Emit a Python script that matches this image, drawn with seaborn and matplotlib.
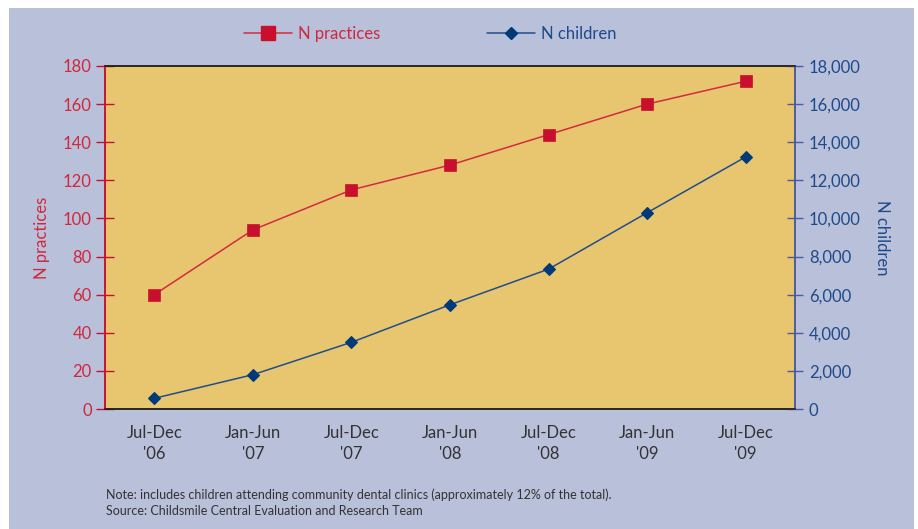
import matplotlib
matplotlib.use("Agg")
import matplotlib.pyplot as plt
import seaborn as sns
import pandas as pd
from matplotlib.patches import Rectangle
from matplotlib.lines import Line2D
from matplotlib.ticker import FuncFormatter

periods = ["Jul-Dec\n'06", "Jan-Jun\n'07", "Jul-Dec\n'07", "Jan-Jun\n'08",
           "Jul-Dec\n'08", "Jan-Jun\n'09", "Jul-Dec\n'09"]
n_practices = [60, 94, 115, 128, 144, 160, 172]
n_children = [560, 1800, 3500, 5470, 7340, 10300, 13230]
left_ticks = [0, 20, 40, 60, 80, 100, 120, 140, 160, 180]
right_ticks = [0, 2000, 4000, 6000, 8000, 10000, 12000, 14000, 16000, 18000]

RED = "#c8102e"
RED_LINE = "#d42a40"
RED_TXT = "#d0283c"
BLUE = "#003a78"
BLUE_LINE = "#1f4e8c"
BLUE_TXT = "#1f4a8a"
BLUE_SPINE = "#4a5aa0"
PLOT_BG = "#e8c670"
FIG_BG = "#b8c0da"
DARK = "#333333"

sns.set_style("white")
plt.rcParams['font.family'] = ['Lato', 'DejaVu Sans']

df = pd.DataFrame({"pos": range(len(periods)), "practices": n_practices,
                   "children": n_children})

fig = plt.figure(figsize=(9.18, 5.29), dpi=100, facecolor="white")
fig.patches.append(Rectangle((9 / 918, 0), (914 - 9) / 918, 1 - 8 / 529,
                             transform=fig.transFigure, facecolor=FIG_BG,
                             edgecolor="none", zorder=-10))
ax = fig.add_axes([105 / 918, 1 - 409 / 529, 690 / 918, 343 / 529])
ax.set_facecolor(PLOT_BG)
ax2 = ax.twinx()

sns.lineplot(data=df, x="pos", y="practices", ax=ax, color=RED_LINE, lw=1.1,
             marker="s", markersize=9, markerfacecolor=RED,
             markeredgecolor=RED, markeredgewidth=0.5)
sns.lineplot(data=df, x="pos", y="children", ax=ax2, color=BLUE_LINE, lw=1.1,
             marker="D", markersize=6.5, markerfacecolor=BLUE,
             markeredgecolor=BLUE, markeredgewidth=0.8)

ax.set_xlim(-0.5, len(periods) - 0.5)
ax.set_ylim(0, 180)
ax2.set_ylim(0, 18000)

ax.set_xticks([i - 0.5 for i in range(len(periods) + 1)])
ax.set_xticklabels([])
ax.set_xticks(range(len(periods)), minor=True)
ax.set_xticklabels(periods, minor=True, fontsize=12, color=DARK, linespacing=1.4)
ax.tick_params(axis="x", which="major", direction="inout", length=18, width=1.1, color=DARK)
ax.tick_params(axis="x", which="minor", length=0, pad=11.5)

ax.set_yticks(left_ticks)
ax.tick_params(axis="y", direction="inout", length=13, width=1.0, color=RED,
               labelcolor=RED_TXT, labelsize=12, pad=3)
ax2.set_yticks(right_ticks)
ax2.yaxis.set_major_formatter(FuncFormatter(lambda v, p: f"{int(v):,}"))
ax2.tick_params(axis="y", direction="inout", length=12, width=1.0, color=BLUE_SPINE,
                labelcolor=BLUE_TXT, labelsize=12, pad=4)

ax.set_xlabel("")
ax.set_ylabel("N practices", color=RED_TXT, fontsize=12, labelpad=9)
ax2.set_ylabel("N children", color=BLUE_TXT, fontsize=12, rotation=270, labelpad=21)

for a in (ax, ax2):
    a.spines["top"].set_color("#222222")
    a.spines["bottom"].set_color("#222222")
    a.spines["left"].set_color(RED)
    a.spines["right"].set_color(BLUE_SPINE)
    for s in a.spines.values():
        s.set_linewidth(1.1)
        s.set_visible(True)
ax2.grid(False)
ax.grid(False)

h1 = Line2D([], [], color=RED_LINE, lw=1.1, marker="s", markersize=10,
            markerfacecolor=RED, markeredgecolor=RED)
h2 = Line2D([], [], color=BLUE_LINE, lw=1.1, marker="D", markersize=6.5,
            markerfacecolor=BLUE, markeredgecolor=BLUE)
leg1 = fig.legend(handles=[h1], labels=["N practices"], loc="center left",
                  bbox_to_anchor=(244 / 918, 1 - 34 / 529), frameon=False,
                  borderpad=0, borderaxespad=0, handlelength=2.9, handletextpad=0.35,
                  fontsize=12)
for t in leg1.get_texts():
    t.set_color(RED_TXT)
leg2 = fig.legend(handles=[h2], labels=["N children"], loc="center left",
                  bbox_to_anchor=(487 / 918, 1 - 34 / 529), frameon=False,
                  borderpad=0, borderaxespad=0, handlelength=2.9, handletextpad=0.35,
                  fontsize=12)
for t in leg2.get_texts():
    t.set_color(BLUE_TXT)

fig.text(106 / 918, 1 - 495 / 529,
         "Note: includes children attending community dental clinics (approximately 12% of the total).",
         fontsize=9, color=DARK, va="center", ha="left")
fig.text(106 / 918, 1 - 511 / 529,
         "Source: Childsmile Central Evaluation and Research Team",
         fontsize=9, color=DARK, va="center", ha="left")

fig.savefig("out.png", dpi=100, facecolor=fig.get_facecolor())
